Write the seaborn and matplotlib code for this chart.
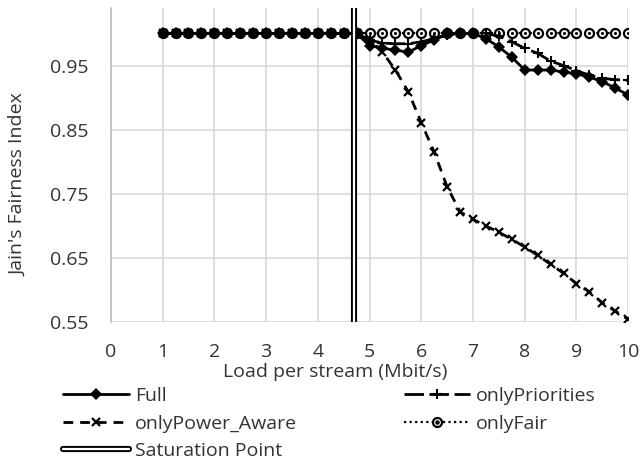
import numpy as np
import pandas as pd
import matplotlib
matplotlib.use('Agg')
import matplotlib.pyplot as plt
import matplotlib.patheffects as pe
import seaborn as sns
from matplotlib.lines import Line2D
from matplotlib.legend_handler import HandlerTuple

sns.set_style("white")
plt.rcParams['font.family'] = ['Open Sans', 'DejaVu Sans']

# 부하 (Mbit/s)
load = [1, 1.25, 1.5, 1.75, 2, 2.25, 2.5, 2.75, 3, 3.25, 3.5, 3.75, 4, 4.25, 4.5, 4.75,
        5, 5.25, 5.5, 5.75, 6, 6.25, 6.5, 6.75, 7, 7.25, 7.5, 7.75, 8, 8.25, 8.5, 8.75,
        9, 9.25, 9.5, 9.75, 10]

full = [1.0] * 16 + [0.981, 0.977, 0.974, 0.971, 0.981, 0.990, 1.0, 1.0, 1.0, 0.992, 0.979,
                     0.963, 0.943, 0.943, 0.943, 0.940, 0.937, 0.932, 0.925, 0.915, 0.904]
only_priorities = [1.0] * 16 + [0.990, 0.985, 0.984, 0.984, 0.987, 0.992, 0.997, 1.0, 1.0, 1.0, 0.996,
                                0.987, 0.977, 0.969, 0.957, 0.950, 0.942, 0.935, 0.930, 0.928, 0.927]
only_power_aware = [1.0] * 16 + [0.990, 0.971, 0.943, 0.909, 0.861, 0.815, 0.761, 0.722, 0.710, 0.700, 0.690,
                                 0.679, 0.667, 0.654, 0.640, 0.626, 0.610, 0.597, 0.580, 0.567, 0.554]
only_fair = [1.0] * 37

saturation_point = 4.7

df = pd.DataFrame({'load': load, 'Full': full, 'onlyPriorities': only_priorities,
                   'onlyPower_Aware': only_power_aware, 'onlyFair': only_fair})

txt_color = '#333333'
fs = 14
lw = 2.0

fig = plt.figure(figsize=(6.41, 4.61), dpi=100)
ax = fig.add_axes([0.173, 0.3015, 0.807, 0.6815])

# 스타일
fair_kw = dict(color='black', lw=1.6, ls=(0, (1, 1.5)), marker='o', markersize=6.5,
               markerfacecolor='white', markeredgecolor='black', markeredgewidth=1.6)
pa_kw = dict(color='black', lw=lw, dashes=[3.5, 2.5], marker='x', markersize=6,
             markeredgecolor='black', markeredgewidth=1.6)
prio_kw = dict(color='black', lw=lw, dashes=[7, 2], marker='+', markersize=7,
               markeredgecolor='black', markeredgewidth=1.5)
full_kw = dict(color='black', lw=lw, marker='D', markersize=6, markeredgecolor='black',
               markeredgewidth=0)
sat_kw = dict(color='white', lw=1.6,
              path_effects=[pe.Stroke(linewidth=4.4, foreground='black'), pe.Normal()])

sns.lineplot(data=df, x='load', y='onlyFair', ax=ax, **fair_kw)
sns.scatterplot(data=df, x='load', y='onlyFair', ax=ax, color='black', s=5, linewidth=0, zorder=2)
sns.lineplot(data=df, x='load', y='onlyPower_Aware', ax=ax, **pa_kw)
sns.lineplot(data=df, x='load', y='onlyPriorities', ax=ax, **prio_kw)
sns.lineplot(data=df, x='load', y='Full', ax=ax, **full_kw)

# 포화점 (이중선)
ax.axvline(saturation_point, zorder=4, **sat_kw)

ax.set_xlim(0, 10)
ax.set_ylim(0.55, 1.04)
ax.set_xticks(range(0, 11))
ax.set_yticks([0.55, 0.65, 0.75, 0.85, 0.95])
ax.set_yticklabels(['0.55', '0.65', '0.75', '0.85', '0.95'])
ax.grid(True, color='#d9d9d9', lw=1.2)
ax.set_axisbelow(True)
for s in ['top', 'right', 'bottom']:
    ax.spines[s].set_visible(False)
ax.spines['left'].set_color('#bfbfbf')
ax.spines['left'].set_linewidth(1.2)
ax.tick_params(axis='both', length=0, labelsize=fs, colors=txt_color)
ax.tick_params(axis='y', pad=16)
ax.tick_params(axis='x', pad=15)
ax.set_xlabel('Load per stream (Mbit/s)', fontsize=fs, color=txt_color)
ax.set_ylabel("Jain's Fairness Index", fontsize=fs, color=txt_color)
ax.xaxis.set_label_coords(0.433, -0.132)
ax.yaxis.set_label_coords(-0.162, 0.436)

# 범례
h_full = Line2D([], [], **full_kw)
h_prio = Line2D([], [], **prio_kw)
h_pa = Line2D([], [], **pa_kw)
h_fair = (Line2D([], [], **fair_kw),
          Line2D([], [], color='black', lw=0, marker='o', markersize=2.2))
h_sat = Line2D([], [], **sat_kw)

leg = fig.legend([h_full, h_pa, h_sat, h_prio, h_fair],
                 ['Full', 'onlyPower_Aware', 'Saturation Point', 'onlyPriorities', 'onlyFair'],
                 handler_map={tuple: HandlerTuple(ndivide=1, pad=0)},
                 loc='upper left', bbox_to_anchor=(0.098, 0.161), ncol=2, frameon=False,
                 fontsize=fs, handlelength=3.4, handletextpad=0.3, columnspacing=5.5,
                 labelspacing=0.5, borderpad=0, borderaxespad=0)
for t in leg.get_texts():
    t.set_color(txt_color)

plt.savefig('out.png', dpi=100)
